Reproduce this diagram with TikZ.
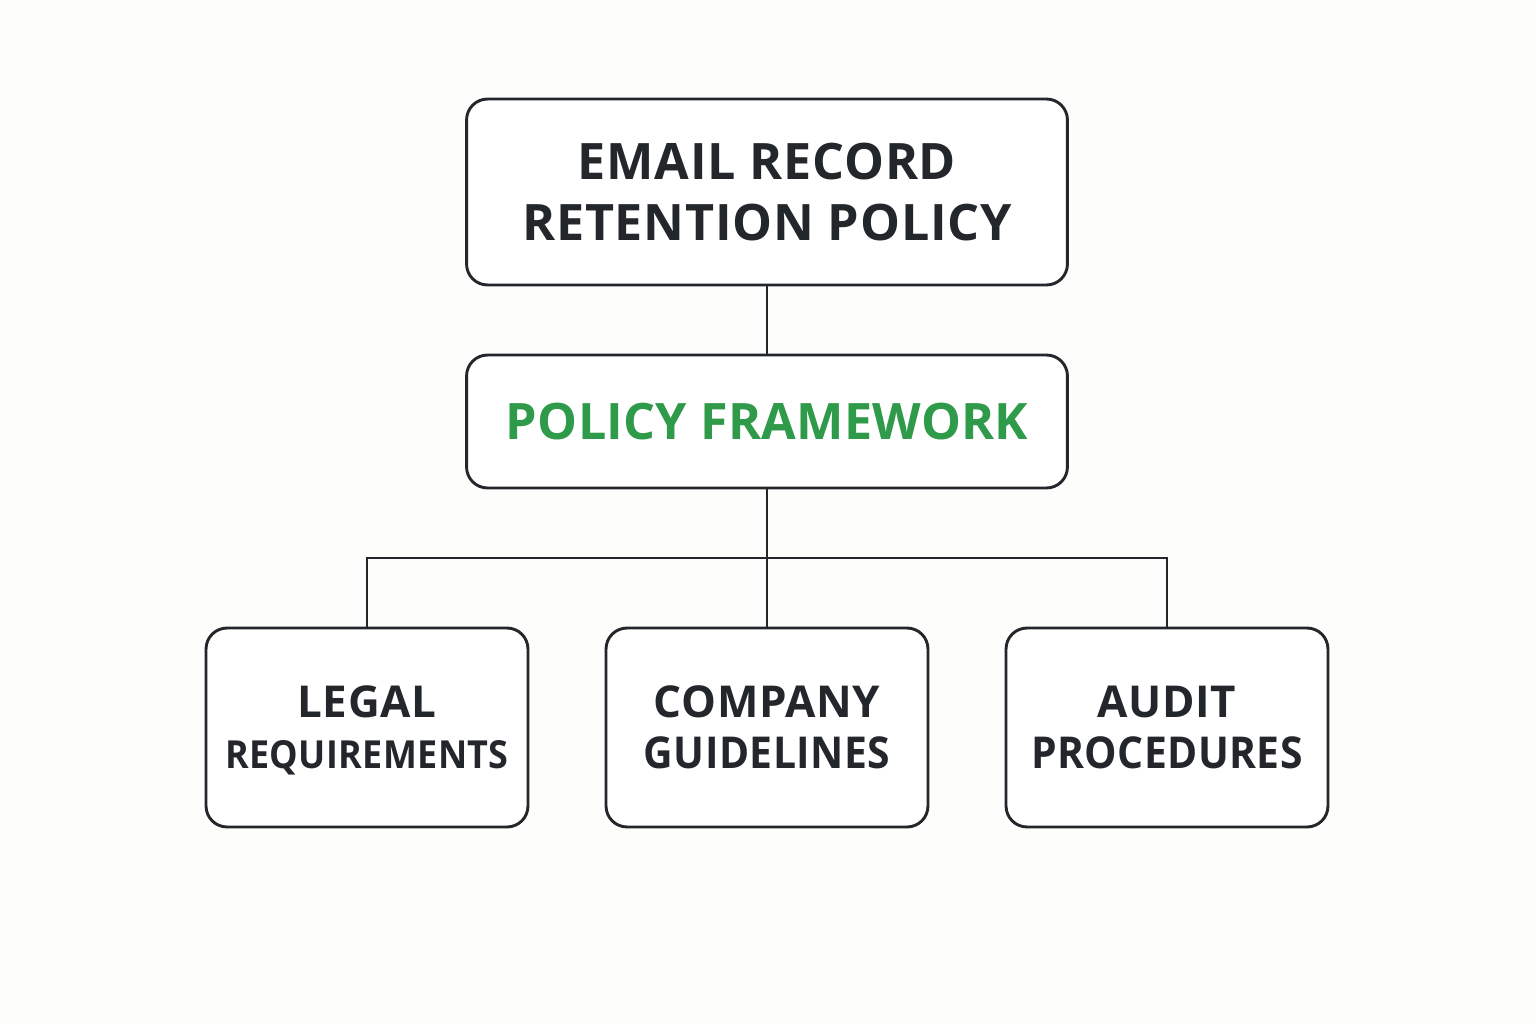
\documentclass[tikz,border=0pt]{standalone}
\usepackage{fontspec}
\setmainfont{Open Sans}[BoldFont={* Bold}]
\newfontfamily\boxfont{Open Sans}[BoldFont={* Bold},LetterSpace=1.5]
\newfontfamily\narrowfont{Open Sans}[BoldFont={* Bold},LetterSpace=1,FakeStretch=0.93]
\definecolor{ink}{HTML}{23272C}
\definecolor{leaf}{HTML}{2E9A4A}
\definecolor{paper}{HTML}{FDFDFB}
\begin{document}
\begin{tikzpicture}[x=0.02cm,y=-0.02cm,
  box/.style={draw=ink, line width=0.058cm, rounded corners=0.42cm, fill=white, align=center, inner sep=0pt, text=ink},
  bigtext/.style={font=\boxfont\bfseries\fontsize{28.6}{34.6}\selectfont},
  smalltext/.style={font=\boxfont\bfseries\fontsize{25}{29}\selectfont},
  link/.style={draw=ink, line width=0.056cm}]
\fill[paper] (0,0) rectangle (1536,1024);
\useasboundingbox (0,0) rectangle (1536,1024);
\node[box, bigtext, minimum width=12.02cm, minimum height=3.72cm] (root) at (767,192) {EMAIL RECORD\\RETENTION POLICY};
\node[box, bigtext, minimum width=12.02cm, minimum height=2.66cm, text=leaf] (frame) at (767,421.5) {\fontspec{Open Sans}[BoldFont={* Bold},LetterSpace=0.5]\bfseries POLICY FRAMEWORK};
\node[box, smalltext, minimum width=6.44cm, minimum height=3.98cm] (legal) at (367,727.5) {LEGAL\\\narrowfont\bfseries\fontsize{22}{29}\selectfont\raisebox{0pt}[\height][0pt]{REQUIREMENTS}};
\node[box, smalltext, minimum width=6.44cm, minimum height=3.98cm] (company) at (767,727.5) {COMPANY\\\narrowfont\bfseries GUIDELINES};
\node[box, smalltext, minimum width=6.44cm, minimum height=3.98cm] (audit) at (1167,727.5) {AUDIT\\\narrowfont\bfseries PROCEDURES};
\coordinate (hub) at (767,558);
\draw[link] (root.south) -- (frame.north);
\draw[link] (frame.south) -- (hub);
\draw[link] (hub) -- (company.north);
\draw[link] (hub) -| (legal.north);
\draw[link] (hub) -| (audit.north);
\end{tikzpicture}
\end{document}
